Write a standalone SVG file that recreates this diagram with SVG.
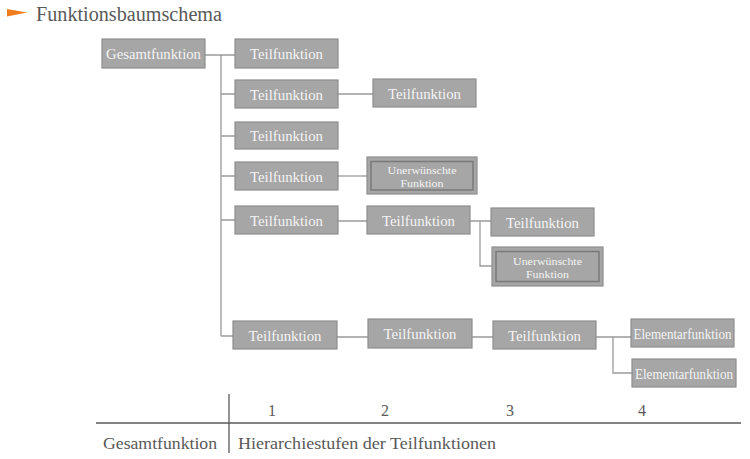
<svg xmlns="http://www.w3.org/2000/svg" width="750" height="459" viewBox="0 0 750 459">
<style>
.box{fill:#a6a6a6;stroke:#8e8e8e;stroke-width:1.2}
.inner{fill:none;stroke:#7a7a7a;stroke-width:1.5}
.t{font-family:"Liberation Serif","DejaVu Serif",serif;font-size:14.5px;fill:#f4f4f4;text-anchor:middle}
.s{font-family:"Liberation Serif","DejaVu Serif",serif;font-size:11px;fill:#f4f4f4;text-anchor:middle}
.c{fill:none;stroke:#9a9a9a;stroke-width:1.3}
.lab{font-family:"Liberation Serif","DejaVu Serif",serif;font-size:16px;fill:#595959}
.ax{stroke:#595959;stroke-width:1.3;fill:none}
</style>
<rect width="750" height="459" fill="#ffffff"/>
<polygon points="7,9 27,12.5 7,16.5" fill="#f07c1e"/>
<text x="36" y="21" font-family="Liberation Serif, DejaVu Serif, serif" font-size="20" fill="#595959" textLength="186" lengthAdjust="spacingAndGlyphs">Funktionsbaumschema</text>

<g id="connectors">
<path class="c" d="M205,55 H235 M221,55 V336 M221,94 H235 M221,136 H235 M221,176 H235 M221,220 H235 M221,336 H233"/>
<path class="c" d="M338,94 H373"/>
<path class="c" d="M338,176 H367"/>
<path class="c" d="M338,221 H367 M470,221 H491 M480,221 V266 H492"/>
<path class="c" d="M337,337 H368 M472,337 H493 M596,337 H631 M613,337 V373 H632"/>
</g>

<g id="n-gesamt"><rect class="box" x="102" y="39" width="103" height="29"/><text class="t" x="153.5" y="59" textLength="95" lengthAdjust="spacingAndGlyphs">Gesamtfunktion</text></g>
<g id="n-t1"><rect class="box" x="235" y="39" width="103" height="29"/><text class="t" x="286.5" y="59" textLength="73" lengthAdjust="spacingAndGlyphs">Teilfunktion</text></g>
<g id="n-t2"><rect class="box" x="235" y="80" width="103" height="28"/><text class="t" x="286.5" y="99.5" textLength="73" lengthAdjust="spacingAndGlyphs">Teilfunktion</text></g>
<g id="n-t2a"><rect class="box" x="373" y="79" width="103" height="28"/><text class="t" x="424.5" y="98.5" textLength="73" lengthAdjust="spacingAndGlyphs">Teilfunktion</text></g>
<g id="n-t3"><rect class="box" x="235" y="122" width="103" height="27"/><text class="t" x="286.5" y="141" textLength="73" lengthAdjust="spacingAndGlyphs">Teilfunktion</text></g>
<g id="n-t4"><rect class="box" x="235" y="162" width="103" height="28"/><text class="t" x="286.5" y="181.5" textLength="73" lengthAdjust="spacingAndGlyphs">Teilfunktion</text></g>
<g id="n-u1"><rect class="box" x="367" y="157" width="110" height="37"/><rect class="inner" x="371" y="161.5" width="102" height="28.5"/><text class="s" x="422" y="173.5" textLength="69" lengthAdjust="spacingAndGlyphs">Unerwünschte</text><text class="s" x="422" y="186.5" textLength="43" lengthAdjust="spacingAndGlyphs">Funktion</text></g>
<g id="n-t5"><rect class="box" x="235" y="206" width="103" height="28"/><text class="t" x="286.5" y="225.5" textLength="73" lengthAdjust="spacingAndGlyphs">Teilfunktion</text></g>
<g id="n-t5a"><rect class="box" x="367" y="206" width="103" height="28"/><text class="t" x="418.5" y="225.5" textLength="73" lengthAdjust="spacingAndGlyphs">Teilfunktion</text></g>
<g id="n-t5b"><rect class="box" x="491" y="208" width="103" height="28"/><text class="t" x="542.5" y="227.5" textLength="73" lengthAdjust="spacingAndGlyphs">Teilfunktion</text></g>
<g id="n-u2"><rect class="box" x="492" y="247" width="111" height="39"/><rect class="inner" x="496" y="251.5" width="103" height="30"/><text class="s" x="547.5" y="264.5" textLength="69" lengthAdjust="spacingAndGlyphs">Unerwünschte</text><text class="s" x="547.5" y="278" textLength="43" lengthAdjust="spacingAndGlyphs">Funktion</text></g>
<g id="n-t6"><rect class="box" x="233" y="321" width="104" height="28"/><text class="t" x="285" y="340.5" textLength="73" lengthAdjust="spacingAndGlyphs">Teilfunktion</text></g>
<g id="n-t6a"><rect class="box" x="368" y="319" width="104" height="29"/><text class="t" x="420" y="339" textLength="73" lengthAdjust="spacingAndGlyphs">Teilfunktion</text></g>
<g id="n-t6b"><rect class="box" x="493" y="321" width="103" height="28"/><text class="t" x="544.5" y="340.5" textLength="73" lengthAdjust="spacingAndGlyphs">Teilfunktion</text></g>
<g id="n-e1"><rect class="box" x="631" y="319" width="103" height="28"/><text class="t" x="682.5" y="338.5" textLength="98" lengthAdjust="spacingAndGlyphs">Elementarfunktion</text></g>
<g id="n-e2"><rect class="box" x="632" y="359" width="104" height="28"/><text class="t" x="684" y="378.5" textLength="98" lengthAdjust="spacingAndGlyphs">Elementarfunktion</text></g>

<g id="axis">
<path class="ax" d="M96,423 H741 M229,394 V453"/>
<text class="lab" x="272" y="416" text-anchor="middle">1</text>
<text class="lab" x="385" y="416" text-anchor="middle">2</text>
<text class="lab" x="510" y="416" text-anchor="middle">3</text>
<text class="lab" x="642" y="416" text-anchor="middle">4</text>
<text class="lab" x="103" y="449" textLength="114" lengthAdjust="spacingAndGlyphs">Gesamtfunktion</text>
<text class="lab" x="238" y="449" textLength="258" lengthAdjust="spacingAndGlyphs">Hierarchiestufen der Teilfunktionen</text>
</g>
</svg>
